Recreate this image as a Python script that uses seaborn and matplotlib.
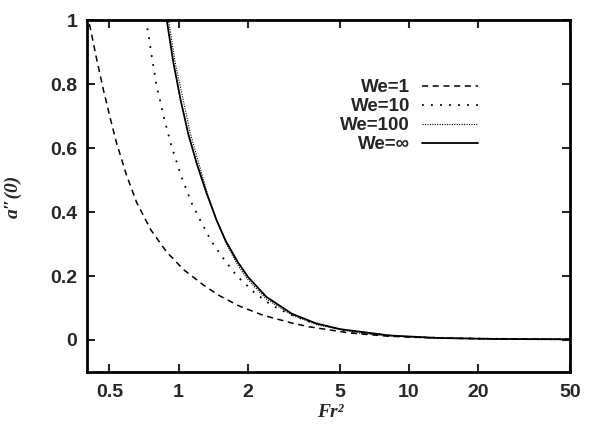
import numpy as np
import pandas as pd
import matplotlib
matplotlib.use("Agg")
import matplotlib.pyplot as plt
import seaborn as sns

# ===============================
# Data
# ===============================
fr2_we1 = [0.40, 0.415, 0.44, 0.472, 0.506, 0.538, 0.594, 0.657, 0.756, 0.887, 1.05, 1.28,
           1.49, 1.82, 2.33, 3.1, 3.7, 5.5, 8.0, 12.0, 20.0, 50.0]
a_we1 = [1.02, 0.97, 0.88, 0.78, 0.69, 0.615, 0.515, 0.43, 0.345, 0.275, 0.22, 0.172,
         0.14, 0.107, 0.077, 0.053, 0.041, 0.022, 0.012, 0.007, 0.004, 0.002]

fr2_we10 = [0.71, 0.726, 0.763, 0.80, 0.86, 0.923, 1.02, 1.13, 1.25, 1.39, 1.6, 1.79,
            2.12, 2.51, 3.0, 3.67, 5.5, 10.0, 20.0, 50.0]
a_we10 = [1.03, 0.99, 0.89, 0.80, 0.70, 0.615, 0.517, 0.433, 0.37, 0.307, 0.245, 0.20,
          0.15, 0.11, 0.082, 0.058, 0.026, 0.009, 0.004, 0.002]

fr2_we100 = [0.885, 0.97, 1.04, 1.12, 1.22, 1.33, 1.46, 1.6, 1.8, 2.0, 2.4,
             3.1, 4.0, 6.0, 10.0, 20.0, 50.0]
a_we100 = [1.04, 0.86, 0.76, 0.65, 0.555, 0.46, 0.375, 0.305, 0.235, 0.188, 0.128,
           0.078, 0.047, 0.022, 0.009, 0.004, 0.002]

fr2_weinf = [0.87, 0.95, 1.02, 1.1, 1.2, 1.32, 1.46, 1.6, 1.8, 2.0, 2.4,
             3.1, 3.94, 5.0, 8.2, 13.5, 25.0, 50.0]
a_weinf = [1.04, 0.865, 0.75, 0.645, 0.55, 0.46, 0.375, 0.31, 0.245, 0.197, 0.135,
           0.082, 0.052, 0.034, 0.014, 0.006, 0.003, 0.002]

labels = ["We=1", "We=10", "We=100", "We=\u221e"]
styles = [(0, (4, 3)), (0, (1, 4)), (0, (1, 1.2)), "-"]
widths = [1.1, 1.3, 0.8, 1.3]

x_ticks = [0.5, 1, 2, 5, 10, 20, 50]
x_ticklabels = ["0.5", "1", "2", "5", "10", "20", "50"]
y_ticks = [0, 0.2, 0.4, 0.6, 0.8, 1]
y_ticklabels = ["0", "0.2", "0.4", "0.6", "0.8", "1"]

# ===============================
# Plot
# ===============================
sns.set_style("ticks")
plt.rcParams["font.family"] = ["Liberation Sans", "DejaVu Sans"]

fig = plt.figure(figsize=(6.02, 4.29), dpi=100)
ax = fig.add_axes([0.1445, 0.133, 0.8025, 0.82])

series = [(fr2_we1, a_we1), (fr2_we10, a_we10), (fr2_we100, a_we100), (fr2_weinf, a_weinf)]
for (xs, ys), lab, ls, lw in zip(series, labels, styles, widths):
    df = pd.DataFrame({"Fr2": xs, "a": ys})
    sns.lineplot(data=df, x="Fr2", y="a", ax=ax, color="black",
                 linestyle=ls, linewidth=lw, label=lab, estimator=None)

ax.set_xscale("log")
ax.set_xlim(0.4, 50)
ax.set_ylim(-0.1, 1.0)
ax.set_xticks(x_ticks)
ax.set_xticklabels(x_ticklabels)
ax.set_yticks(y_ticks)
ax.set_yticklabels(y_ticklabels)
ax.minorticks_off()
ax.tick_params(direction="in", length=6, width=1.5, top=True, right=True,
               labelsize=14)
ax.tick_params(axis="x", pad=9)
ax.tick_params(axis="y", pad=7)
for lbl in ax.get_xticklabels() + ax.get_yticklabels():
    lbl.set_fontweight("bold")
for sp in ax.spines.values():
    sp.set_linewidth(2)
    sp.set_color("black")

ax.set_xlabel("Fr\u00b2", fontsize=14, fontweight="bold", fontstyle="italic",
              family=["Liberation Serif"])
ax.set_ylabel("a\u2033(0)", fontsize=14, fontweight="bold", fontstyle="italic",
              family=["Liberation Serif"])
ax.xaxis.set_label_coords(0.503, -0.092)
ax.yaxis.set_label_coords(-0.135, 0.5)

leg = ax.legend(loc="upper right", bbox_to_anchor=(0.845, 0.88), frameon=False,
                markerfirst=False, handlelength=3.0, handletextpad=0.65,
                labelspacing=0.1, prop={"weight": "bold", "size": 13.5})

plt.savefig("out.png", dpi=100)
